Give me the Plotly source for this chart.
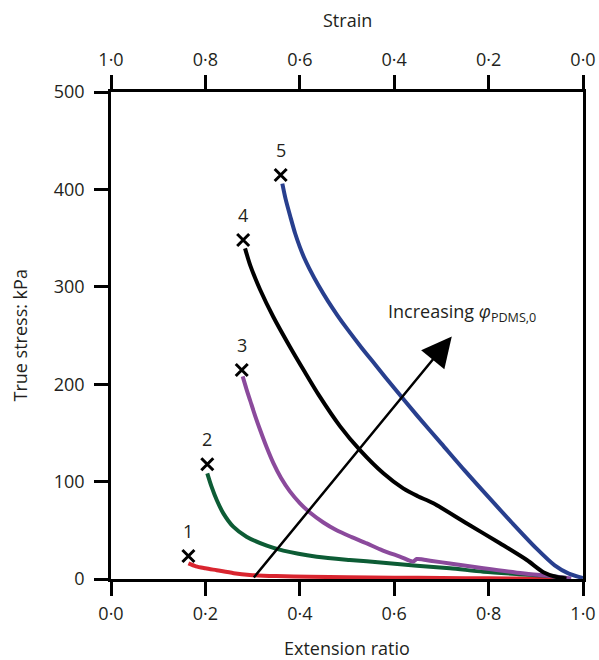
import plotly.graph_objects as go

# ---- data ----
c1_x = [0.164, 0.18, 0.20, 0.224, 0.26, 0.294, 0.35, 0.42, 0.50, 0.60, 0.70, 0.80, 0.90, 0.97]
c1_y = [16, 13, 11, 9, 6, 4.2, 3.0, 2.3, 1.8, 1.4, 1.0, 0.7, 0.4, 0.2]

c2_x = [0.204, 0.213, 0.224, 0.238, 0.259, 0.287, 0.330, 0.365, 0.436, 0.506, 0.577, 0.648, 0.718, 0.789, 0.860, 0.930, 0.965]
c2_y = [108.5, 94.8, 81.1, 67.4, 53.7, 43.4, 34.2, 29.1, 22.9, 19.5, 16.8, 13.7, 11.0, 7.5, 5.1, 3.1, 1.0]

c3_x = [0.279, 0.287, 0.295, 0.305, 0.316, 0.330, 0.344, 0.360, 0.379, 0.400, 0.422, 0.450, 0.478, 0.510, 0.542, 0.575, 0.612, 0.640, 0.648, 0.680, 0.718, 0.789, 0.860, 0.930, 0.975]
c3_y = [208, 195, 183, 168, 153, 135, 119, 104, 90, 78, 68, 58, 50, 43, 36.5, 29.5, 23, 18, 20.5, 18.5, 16, 11, 6.5, 3, 0.5]

c4_x = [0.284, 0.295, 0.316, 0.344, 0.379, 0.410, 0.440, 0.485, 0.528, 0.577, 0.619, 0.650, 0.683, 0.754, 0.824, 0.881, 0.916, 0.944, 0.965]
c4_y = [339.5, 322, 297, 269, 238.5, 213, 189, 157, 132, 108.5, 93, 85, 77.7, 57, 36.7, 19.5, 7, 2, 0.5]

c5_x = [0.363, 0.370, 0.380, 0.390, 0.400, 0.410, 0.420, 0.440, 0.460, 0.480, 0.500, 0.530, 0.560, 0.600, 0.650, 0.700, 0.750, 0.800, 0.850, 0.900, 0.940, 0.970, 1.000]
c5_y = [406, 390, 372, 355, 341, 329, 319, 301, 285, 270.5, 257, 238, 220, 196, 167, 139, 111, 84, 57.5, 32, 14, 5.5, 1]

fail_x = [0.164, 0.204, 0.277, 0.280, 0.3595]
fail_y = [23.6, 117.8, 214.6, 348, 414.8]
fail_labels = ["1", "2", "3", "4", "5"]

ext_ticks = [0.0, 0.2, 0.4, 0.6, 0.8, 1.0]
ext_ticktext = ["0·0", "0·2", "0·4", "0·6", "0·8", "1·0"]
strain_ticks = [1.0, 0.8, 0.6, 0.4, 0.2, 0.0]
strain_ticktext = ["1·0", "0·8", "0·6", "0·4", "0·2", "0·0"]
stress_ticks = [0, 100, 200, 300, 400, 500]

arrow_start = (0.30, 0)
arrow_end = (0.722, 249)

FONT = "Open Sans"
TXT = "#231f20"

fig = go.Figure()
series = [
    (c1_x, c1_y, "#d9252f"),
    (c2_x, c2_y, "#0d5c35"),
    (c3_x, c3_y, "#8b4a9c"),
    (c4_x, c4_y, "#000000"),
    (c5_x, c5_y, "#283f8e"),
]
for xs, ys, col in series:
    fig.add_trace(go.Scatter(x=xs, y=ys, mode="lines",
                             line=dict(color=col, width=4, shape="spline", smoothing=0.8),
                             showlegend=False, hoverinfo="skip"))

fig.add_trace(go.Scatter(x=fail_x, y=fail_y, mode="markers",
                         marker=dict(symbol="x-thin", size=12, color="black",
                                     line=dict(color="black", width=3)),
                         showlegend=False, hoverinfo="skip"))

# invisible trace for the top (strain) axis
fig.add_trace(go.Scatter(x=[1 - v for v in ext_ticks], y=[None] * len(ext_ticks), xaxis="x2",
                         mode="markers", marker=dict(opacity=0), showlegend=False, hoverinfo="skip"))

axis_common = dict(showgrid=False, zeroline=False, showline=True, linecolor="black", linewidth=2.5,
                   ticks="outside", ticklen=14, tickwidth=2.5, tickcolor="black", automargin=False,
                   tickfont=dict(family=FONT, size=18, color=TXT))

annotations = [
    dict(x=arrow_end[0], y=arrow_end[1], ax=arrow_start[0], ay=arrow_start[1],
         xref="x", yref="y", axref="x", ayref="y", showarrow=True, text="",
         arrowhead=2, arrowsize=2.4, arrowwidth=2.5, arrowcolor="black"),
    dict(x=0.583, y=274, xref="x", yref="y", xanchor="left", yanchor="middle",
         text="Increasing <i>φ</i><sub>PDMS,0</sub>", showarrow=False,
         font=dict(family=FONT, size=18, color=TXT)),
    dict(x=0.5, y=1.148, xref="paper", yref="paper", text="Strain", showarrow=False,
         xanchor="center", yanchor="middle", font=dict(family=FONT, size=18, color=TXT)),
    dict(x=0.5, y=-0.1417, xref="paper", yref="paper", text="Extension ratio", showarrow=False,
         xanchor="center", yanchor="middle", font=dict(family=FONT, size=18, color=TXT)),
    dict(x=-0.1928, y=0.5, xref="paper", yref="paper", text="True stress: kPa", showarrow=False,
         textangle=-90, xanchor="center", yanchor="middle",
         font=dict(family=FONT, size=18, color=TXT)),
]
for fx, fy, lab in zip(fail_x, fail_y, fail_labels):
    annotations.append(dict(x=fx, y=fy, xref="x", yref="y", text=lab, showarrow=False,
                            xanchor="center", yanchor="middle", yshift=25,
                            font=dict(family=FONT, size=18, color=TXT)))

fig.update_layout(
    width=599, height=660,
    margin=dict(l=111, r=16, t=92, b=81, autoexpand=False),
    paper_bgcolor="white", plot_bgcolor="white",
    xaxis=dict(range=[0, 1], tickvals=ext_ticks, ticktext=ext_ticktext,
               ticklabelstandoff=3, **axis_common),
    xaxis2=dict(range=[1, 0], tickvals=strain_ticks, ticktext=strain_ticktext,
                overlaying="x", side="top", anchor="y", ticklabelstandoff=2, **axis_common),
    yaxis=dict(range=[0, 500], tickvals=stress_ticks, ticktext=[str(v) for v in stress_ticks],
               mirror=True, ticklabelstandoff=6, **axis_common),
    annotations=annotations,
)

fig.write_html("out.html", config={"displayModeBar": False},
               post_script="document.body.style.margin='0';")
